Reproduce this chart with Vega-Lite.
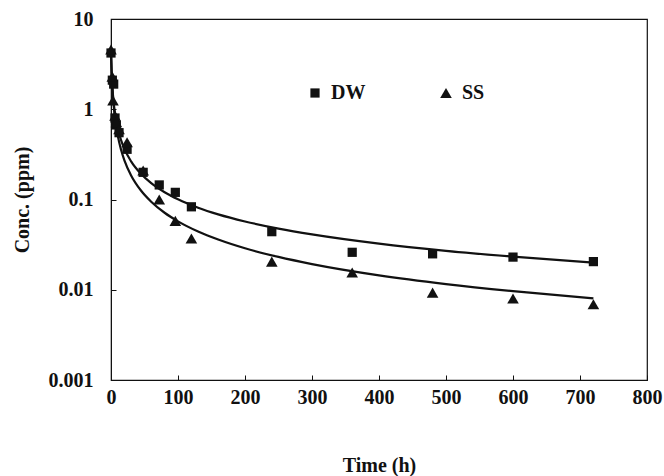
{
  "$schema": "https://vega.github.io/schema/vega-lite/v6.json",
  "width": 536,
  "height": 361,
  "autosize": {"type": "none"},
  "padding": {"left": 111, "top": 19, "right": 17, "bottom": 96},
  "background": "white",
  "config": {
    "font": "Liberation Serif",
    "view": {"stroke": "#111", "strokeWidth": 1.2},
    "axis": {
      "grid": false,
      "domainColor": "#111",
      "tickColor": "#111",
      "labelColor": "#111",
      "titleColor": "#111",
      "labelFont": "Liberation Serif",
      "titleFont": "Liberation Serif",
      "labelFontWeight": "bold",
      "titleFontWeight": "bold",
      "labelFontSize": 20,
      "titleFontSize": 20,
      "tickSize": -5
    }
  },
  "datasets": {
    "pts": [
      {"t": 0, "c": 4.2, "s": "DW"},
      {"t": 2, "c": 2.1, "s": "DW"},
      {"t": 4, "c": 1.9, "s": "DW"},
      {"t": 6, "c": 0.8, "s": "DW"},
      {"t": 8, "c": 0.67, "s": "DW"},
      {"t": 12, "c": 0.55, "s": "DW"},
      {"t": 24, "c": 0.36, "s": "DW"},
      {"t": 48, "c": 0.2, "s": "DW"},
      {"t": 72, "c": 0.145, "s": "DW"},
      {"t": 96, "c": 0.12, "s": "DW"},
      {"t": 120, "c": 0.083, "s": "DW"},
      {"t": 240, "c": 0.044, "s": "DW"},
      {"t": 360, "c": 0.026, "s": "DW"},
      {"t": 480, "c": 0.025, "s": "DW"},
      {"t": 600, "c": 0.023, "s": "DW"},
      {"t": 720, "c": 0.0205, "s": "DW"},
      {"t": 0, "c": 4.6, "s": "SS"},
      {"t": 2, "c": 2.3, "s": "SS"},
      {"t": 3, "c": 1.25, "s": "SS"},
      {"t": 6, "c": 0.85, "s": "SS"},
      {"t": 8, "c": 0.72, "s": "SS"},
      {"t": 12, "c": 0.6, "s": "SS"},
      {"t": 24, "c": 0.43, "s": "SS"},
      {"t": 48, "c": 0.21, "s": "SS"},
      {"t": 72, "c": 0.1, "s": "SS"},
      {"t": 96, "c": 0.058, "s": "SS"},
      {"t": 120, "c": 0.037, "s": "SS"},
      {"t": 240, "c": 0.0205, "s": "SS"},
      {"t": 360, "c": 0.0155, "s": "SS"},
      {"t": 480, "c": 0.0093, "s": "SS"},
      {"t": 600, "c": 0.008, "s": "SS"},
      {"t": 720, "c": 0.0069, "s": "SS"}
    ],
    "fit": [
      {"t": 0, "c": 4.42, "s": "DW"},
      {"t": 1, "c": 2.5, "s": "DW"},
      {"t": 2, "c": 1.795, "s": "DW"},
      {"t": 4, "c": 1.181, "s": "DW"},
      {"t": 6, "c": 0.896, "s": "DW"},
      {"t": 10, "c": 0.619, "s": "DW"},
      {"t": 15, "c": 0.455, "s": "DW"},
      {"t": 20, "c": 0.364, "s": "DW"},
      {"t": 30, "c": 0.2645, "s": "DW"},
      {"t": 45, "c": 0.1914, "s": "DW"},
      {"t": 60, "c": 0.1518, "s": "DW"},
      {"t": 80, "c": 0.1204, "s": "DW"},
      {"t": 100, "c": 0.1005, "s": "DW"},
      {"t": 130, "c": 0.0812, "s": "DW"},
      {"t": 160, "c": 0.0685, "s": "DW"},
      {"t": 200, "c": 0.0571, "s": "DW"},
      {"t": 250, "c": 0.0476, "s": "DW"},
      {"t": 300, "c": 0.041, "s": "DW"},
      {"t": 400, "c": 0.0324, "s": "DW"},
      {"t": 500, "c": 0.027, "s": "DW"},
      {"t": 600, "c": 0.0233, "s": "DW"},
      {"t": 720, "c": 0.02, "s": "DW"},
      {"t": 0, "c": 4.46, "s": "SS"},
      {"t": 1, "c": 2.52, "s": "SS"},
      {"t": 2, "c": 1.76, "s": "SS"},
      {"t": 4, "c": 1.094, "s": "SS"},
      {"t": 6, "c": 0.795, "s": "SS"},
      {"t": 10, "c": 0.513, "s": "SS"},
      {"t": 15, "c": 0.356, "s": "SS"},
      {"t": 20, "c": 0.272, "s": "SS"},
      {"t": 30, "c": 0.185, "s": "SS"},
      {"t": 45, "c": 0.125, "s": "SS"},
      {"t": 60, "c": 0.0946, "s": "SS"},
      {"t": 80, "c": 0.0713, "s": "SS"},
      {"t": 100, "c": 0.0573, "s": "SS"},
      {"t": 130, "c": 0.0442, "s": "SS"},
      {"t": 160, "c": 0.036, "s": "SS"},
      {"t": 200, "c": 0.0288, "s": "SS"},
      {"t": 250, "c": 0.0231, "s": "SS"},
      {"t": 300, "c": 0.01925, "s": "SS"},
      {"t": 400, "c": 0.01444, "s": "SS"},
      {"t": 500, "c": 0.01156, "s": "SS"},
      {"t": 600, "c": 0.00964, "s": "SS"},
      {"t": 720, "c": 0.00803, "s": "SS"}
    ]
  },
  "encoding": {
    "x": {
      "field": "t",
      "type": "quantitative",
      "scale": {"domain": [0, 800], "nice": false},
      "axis": {
        "title": "Time (h)",
        "values": [0, 100, 200, 300, 400, 500, 600, 700, 800],
        "labelPadding": 12,
        "titlePadding": 48,
        "labelFlush": false
      }
    },
    "y": {
      "field": "c",
      "type": "quantitative",
      "scale": {"type": "log", "domain": [0.001, 10], "nice": false},
      "axis": {
        "title": "Conc. (ppm)",
        "values": [0.001, 0.01, 0.1, 1, 10],
        "format": "~g",
        "labelPadding": 23,
        "titlePadding": 16,
        "labelFlush": false
      }
    }
  },
  "layer": [
    {
      "data": {"name": "fit"},
      "mark": {"type": "line", "color": "#111", "strokeWidth": 2.2, "interpolate": "monotone"},
      "encoding": {"detail": {"field": "s"}}
    },
    {
      "data": {"name": "pts"},
      "mark": {"type": "point", "filled": true, "color": "#111", "opacity": 1},
      "encoding": {
        "size": {
          "field": "s",
          "type": "nominal",
          "scale": {"domain": ["DW", "SS"], "range": [85, 135]}
        },
        "shape": {
          "field": "s",
          "type": "nominal",
          "scale": {"domain": ["DW", "SS"], "range": ["square", "triangle-up"]},
          "legend": {
            "title": null,
            "orient": "none",
            "legendX": 194,
            "legendY": 64,
            "direction": "horizontal",
            "columnPadding": 70,
            "labelFont": "Liberation Serif",
            "labelFontWeight": "bold",
            "labelFontSize": 20,
            "labelColor": "#111",
            "symbolFillColor": "#111",
            "symbolStrokeColor": "#111",
            "symbolOpacity": 1,
            "labelOffset": 6
          }
        }
      }
    }
  ]
}
